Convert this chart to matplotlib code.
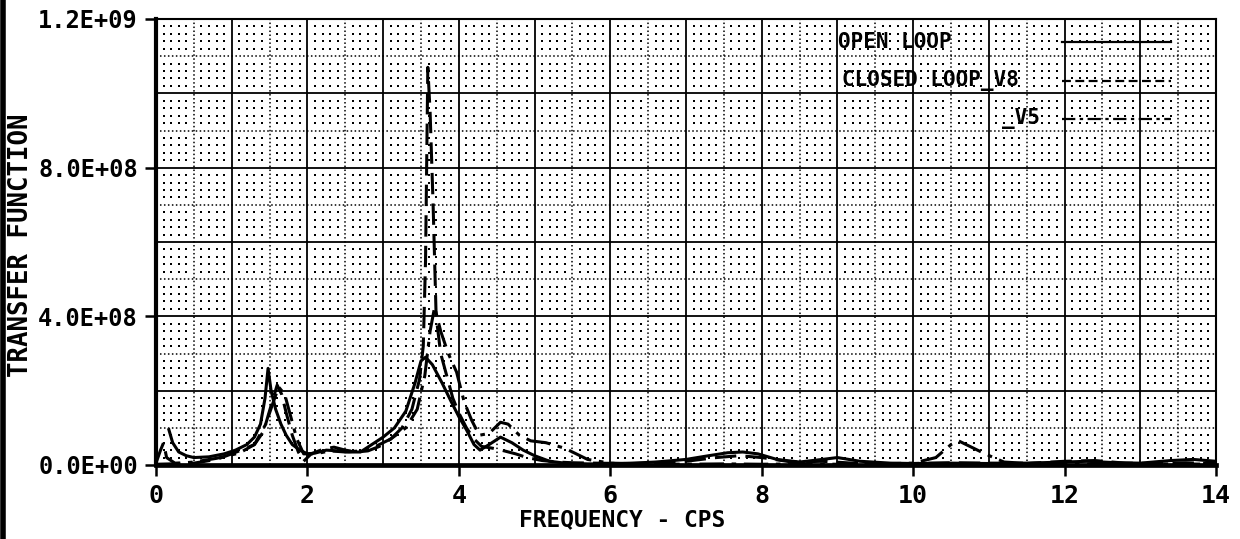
import numpy as np
import matplotlib
matplotlib.use("Agg")
import matplotlib.pyplot as plt
from matplotlib.lines import Line2D

# ---------------- data (values in units of 1E+08) ----------------
open_x = [0.17, 0.22, 0.3, 0.4, 0.5, 0.7, 0.9, 1.05, 1.2, 1.3, 1.38, 1.44, 1.48, 1.52,
          1.58, 1.65, 1.72, 1.8, 1.9, 2.0, 2.1, 2.25, 2.4, 2.55, 2.7, 2.85, 3.0, 3.15,
          3.3, 3.42, 3.5, 3.56, 3.65, 3.78, 3.9, 4.0, 4.1, 4.2, 4.28, 4.4, 4.55, 4.7,
          4.85, 5.0, 5.2, 5.4, 5.7, 6.0, 6.3, 6.6, 7.0, 7.3, 7.55, 7.75, 7.95, 8.2,
          8.5, 8.8, 9.0, 9.3, 9.7, 10.0, 10.5, 11.0, 11.5, 12.0, 12.3, 12.7, 13.0,
          13.4, 13.7, 14.0]
open_y = [0.95, 0.6, 0.35, 0.25, 0.2, 0.22, 0.3, 0.4, 0.55, 0.75, 1.1, 1.8, 2.6, 2.0,
          1.5, 1.1, 0.8, 0.55, 0.4, 0.3, 0.32, 0.4, 0.38, 0.35, 0.35, 0.55, 0.75, 1.0,
          1.45, 2.2, 2.8, 2.9, 2.7, 2.2, 1.7, 1.3, 0.95, 0.55, 0.4, 0.55, 0.75, 0.6,
          0.4, 0.25, 0.1, 0.05, 0.03, 0.03, 0.05, 0.08, 0.15, 0.25, 0.33, 0.35, 0.3,
          0.15, 0.08, 0.15, 0.2, 0.1, 0.05, 0.04, 0.05, 0.04, 0.05, 0.08, 0.1, 0.06,
          0.05, 0.12, 0.15, 0.1]

v8_x = [0.0, 0.06, 0.1, 0.14, 0.25, 0.5, 0.8, 1.0, 1.15, 1.3, 1.42, 1.52, 1.6, 1.66,
        1.72, 1.8, 1.88, 1.95, 2.05, 2.2, 2.35, 2.5, 2.65, 2.8, 2.95, 3.1, 3.25, 3.38,
        3.48, 3.53, 3.56, 3.59, 3.62, 3.66, 3.7, 3.76, 3.84, 3.92, 4.0, 4.1, 4.2, 4.3,
        4.45, 4.6, 4.75, 4.9, 5.1, 5.3, 5.5, 5.8, 6.2, 6.6, 7.0, 7.4, 7.7, 8.0, 8.4,
        8.8, 9.2, 9.6, 10.0, 10.5, 11.0, 11.5, 12.0, 12.4, 12.8, 13.2, 13.6, 14.0]
v8_y = [0.05, 0.4, 0.6, 0.2, 0.05, 0.05, 0.15, 0.3, 0.42, 0.55, 0.9, 1.6, 2.15, 1.9,
        1.4, 0.8, 0.35, 0.1, 0.3, 0.42, 0.48, 0.4, 0.35, 0.38, 0.5, 0.7, 1.0, 1.5,
        2.3, 3.2, 5.5, 10.7, 9.5, 7.0, 4.0, 3.0, 2.4, 1.8, 1.4, 1.0, 0.7, 0.5, 0.45,
        0.38, 0.3, 0.2, 0.12, 0.08, 0.06, 0.05, 0.04, 0.05, 0.1, 0.2, 0.25, 0.2, 0.08,
        0.1, 0.05, 0.04, 0.04, 0.06, 0.05, 0.04, 0.1, 0.12, 0.05, 0.04, 0.06, 0.04]

v5_x = [0.0, 0.2, 0.5, 0.8, 1.1, 1.3, 1.45, 1.55, 1.62, 1.7, 1.78, 1.86, 1.95, 2.1,
        2.3, 2.5, 2.7, 2.9, 3.1, 3.3, 3.45, 3.55, 3.62, 3.68, 3.76, 3.86, 3.97, 4.07,
        4.17, 4.27, 4.4, 4.55, 4.65, 4.8, 4.95, 5.15, 5.4, 5.7, 6.0, 6.5, 7.0, 7.5,
        8.0, 8.5, 9.0, 9.5, 10.0, 10.3, 10.5, 10.6, 10.75, 10.95, 11.2, 11.6, 12.0,
        12.5, 13.0, 13.5, 14.0]
v5_y = [0.02, 0.03, 0.08, 0.18, 0.32, 0.55, 1.1, 1.7, 2.1, 1.9, 1.3, 0.7, 0.3, 0.3,
        0.38, 0.35, 0.38, 0.5, 0.7, 1.0, 1.5, 2.4, 3.6, 4.25, 3.6, 3.0, 2.5, 1.7, 1.2,
        0.8, 0.85, 1.15, 1.1, 0.8, 0.65, 0.6, 0.45, 0.15, 0.05, 0.03, 0.02, 0.03,
        0.02, 0.03, 0.02, 0.03, 0.05, 0.2, 0.55, 0.65, 0.5, 0.3, 0.08, 0.03, 0.02,
        0.03, 0.02, 0.03, 0.02]

series_labels = ["OPEN LOOP", "CLOSED LOOP_V8", "_V5"]
x_ticks = [0, 2, 4, 6, 8, 10, 12, 14]
x_tick_labels = ["0", "2", "4", "6", "8", "10", "12", "14"]
y_ticks = [0.0, 4.0e8, 8.0e8, 1.2e9]
y_tick_labels = ["0.0E+00", "4.0E+08", "8.0E+08", "1.2E+09"]
x_label = "FREQUENCY - CPS"
y_label = "TRANSFER FUNCTION"
scale = 1e8

# ---------------- figure ----------------
plt.rcParams["font.family"] = ["DejaVu Sans Mono", "DejaVu Sans"]
plt.rcParams["font.weight"] = "bold"

W, H = 1240, 539
fig = plt.figure(figsize=(W / 100, H / 100), dpi=100)
ax = fig.add_axes([156 / W, 1 - 465 / H, 1060 / W, 446 / H])
ax.set_xlim(0, 14)
ax.set_ylim(0, 1.2e9)

# grid: solid every 1 / 2E8, dotted every 0.5 / 1E8, dots every 0.1 / 2E7
for xv in np.arange(1, 14, 1.0):
    ax.axvline(xv, color="black", lw=1.3, zorder=1)
for yv in np.arange(2e8, 1.2e9, 2e8):
    ax.axhline(yv, color="black", lw=1.3, zorder=1)
for xv in np.arange(0.5, 14, 1.0):
    ax.axvline(xv, color="black", lw=1.1, ls=(0, (1, 1.6)), zorder=1)
for yv in np.arange(1e8, 1.2e9, 2e8):
    ax.axhline(yv, color="black", lw=1.1, ls=(0, (1, 1.6)), zorder=1)
gx = [v for v in np.round(np.arange(0.1, 14, 0.1), 2) if abs(v * 2 - round(v * 2)) > 1e-6]
gy = [v for v in np.arange(2e7, 1.2e9, 2e7) if abs(v / 1e8 - round(v / 1e8)) > 1e-6]
GX, GY = np.meshgrid(gx, gy)
ax.plot(GX.ravel(), GY.ravel(), ls="none", marker="s", ms=1.6, mew=0,
        color="black", zorder=1)

# data lines
lw = 2.2
ax.plot(open_x, np.array(open_y) * scale, color="black", lw=lw, zorder=3,
        solid_joinstyle="round")
ax.plot(v8_x, np.array(v8_y) * scale, color="black", lw=lw, ls=(0, (7, 3)), zorder=3)
ax.plot(v5_x, np.array(v5_y) * scale, color="black", lw=lw,
        ls=(0, (8, 2.5, 1.5, 2.5)), zorder=3)

# legend (manual, like the plotter output)
styles = ["-", (0, (4, 2)), (0, (6, 2, 1.5, 2))]
ty = [0.948, 0.862, 0.776]
tx = [0.643, 0.647, 0.834]
has = ["left", "left", "right"]
for lab, st, yy, xx, ha in zip(series_labels, styles, ty, tx, has):
    ax.text(xx, yy, lab, transform=ax.transAxes, ha=ha, va="center",
            fontsize=15, fontweight="bold", zorder=4)
    ax.add_line(Line2D([0.855, 0.958], [yy, yy], transform=ax.transAxes,
                       color="black", lw=1.6, ls=st, zorder=4))

# ticks and spines
ax.set_xticks(x_ticks)
ax.set_xticklabels(x_tick_labels, fontsize=18, fontweight="bold")
ax.set_yticks(y_ticks)
ax.set_yticklabels(y_tick_labels, fontsize=17, fontweight="bold")
ax.tick_params(axis="both", direction="out", length=8, width=1.8, color="black")
ax.tick_params(axis="x", pad=6)
ax.tick_params(axis="y", pad=5)
ax.spines["left"].set_linewidth(3)
ax.spines["bottom"].set_linewidth(3.4)
ax.spines["top"].set_linewidth(1.5)
ax.spines["right"].set_linewidth(1.5)

fig.text(622 / W, 1 - 520 / H, x_label, ha="center", va="center",
         fontsize=16.5, fontweight="bold")
fig.text(21 / W, 1 - 245 / H, y_label, ha="center", va="center", rotation=90,
         fontsize=18.5, fontweight="bold")

# page border at the left edge
fig.add_artist(Line2D([3 / W, 3 / W], [0, 1], transform=fig.transFigure,
                      color="black", lw=4))

fig.savefig("out.png", dpi=100)
